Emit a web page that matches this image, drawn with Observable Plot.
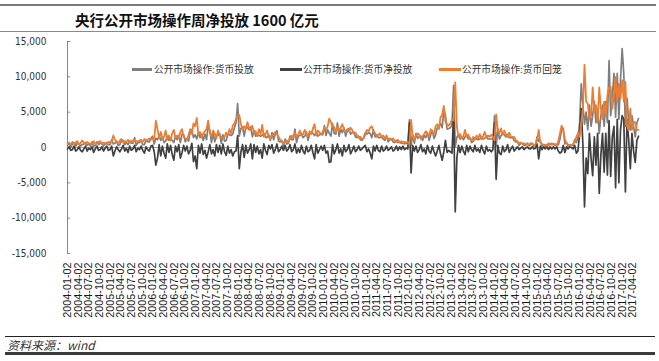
<!DOCTYPE html>
<html><head><meta charset="utf-8">
<script src="https://cdn.jsdelivr.net/npm/d3@7"></script>
<script src="https://cdn.jsdelivr.net/npm/@observablehq/plot@0.6"></script>
<style>
body{margin:0;background:#fff;}
#wrap{position:relative;width:659px;height:361px;overflow:hidden;font-family:"Noto Sans CJK SC",sans-serif;}
.hl{position:absolute;}
.lg{position:absolute;top:62px;font-size:9.7px;color:#333;line-height:14px;white-space:nowrap;}
.sw{position:absolute;top:68px;height:3px;}
</style></head>
<body><div id="wrap">
<div class="hl" style="left:0;top:4px;width:656px;height:2px;background:#7a7a7a"></div>
<div style="position:absolute;left:75px;top:9px;font-size:14.5px;font-weight:bold;color:#111;line-height:22px;white-space:nowrap;">央行公开市场操作周净投放 1600 亿元</div>
<div class="hl" style="left:0;top:31px;width:656px;height:1px;background:#8a8a8a"></div>
<div id="chart" style="position:absolute;left:0;top:36px;"></div>
<div class="sw" style="left:132px;width:20px;background:#7f7f7f"></div>
<div class="lg" style="left:154px">公开市场操作:货币投放</div>
<div class="sw" style="left:280px;width:22px;background:#404040"></div>
<div class="lg" style="left:303px">公开市场操作:货币净投放</div>
<div class="sw" style="left:439px;width:22px;background:#ED7D31"></div>
<div class="lg" style="left:462px">公开市场操作:货币回笼</div>
<div class="hl" style="left:5px;top:336px;width:650px;height:1px;background:#222"></div>
<div style="position:absolute;left:7px;top:338px;font-size:12px;font-style:italic;color:#333;line-height:14px;">资料来源：wind</div>
<div class="hl" style="left:5px;top:352px;width:650px;height:3px;background:#3a3a3a"></div>
</div>
<script>
// Series sampled every 14 days from 2004-01-02 (亿元)
const startDate = "2004-01-02";
const stepDays = 14;

// 公开市场操作:货币投放
const injection = [
  300,700,0,500,700,200,600,500,200,400,500,700,300,500,200,800,200,300,800,400,600,600,200,500,700,400,
  400,1100,500,600,900,300,400,1000,1000,400,700,400,900,600,600,1400,300,700,700,1100,400,400,1100,800,800,1300,
  1600,500,1300,1100,1700,1000,1400,700,900,1600,1000,1300,1000,700,1600,1100,1700,700,1900,1800,800,1300,900,2200,2500,1400,
  1800,1200,2100,1400,1900,1000,1900,1100,3200,2400,700,2100,800,1700,1700,2000,600,1800,900,1000,1900,1800,1700,1900,2800,3500,
  6200,1600,2700,2900,1600,2900,2800,2500,2900,1500,2400,1600,1800,1700,1600,1700,2000,1500,1400,1800,1000,2100,1100,1900,2400,900,
  800,1000,200,1200,500,600,1600,1100,1100,2600,700,1600,1700,2000,1400,1600,2200,1000,1900,2200,2000,1700,2100,1600,1800,2000,
  1800,3100,1700,2500,2000,1600,3400,2000,1900,3500,1600,2600,2100,2800,1600,2300,2700,1900,2100,2200,1500,1400,1600,1100,1000,1400,
  2100,1900,2100,2000,1400,2500,1500,1800,1400,1400,1600,1200,1000,1700,800,1100,1200,800,700,1000,700,800,600,800,500,600,
  600,3900,300,1800,600,2000,1300,1500,1600,1000,1700,1400,2100,1000,1800,2400,1300,1800,2800,2900,3400,2800,5300,4600,2600,2700,
  2800,3200,8800,100,1500,1800,1200,1500,1100,1500,1800,1200,1400,700,900,1400,1200,1100,1200,1500,1200,1300,1600,1200,1200,1200,
  1200,4500,200,2700,1200,1700,2000,1800,1500,1900,1400,1400,1500,1000,800,900,300,600,600,300,300,600,250,400,600,200,
  300,1500,900,900,200,400,200,400,300,500,400,500,300,400,400,1200,2500,2700,500,700,200,400,300,300,1100,700,
  1500,3500,9000,6000,3300,5000,2500,6000,3000,4500,6500,3500,5500,2000,4500,6000,3000,6500,3500,12300,4500,7000,10500,4300,10500,4000,
  9500,14000,10500,3000,7000,3500,2500,4500,3000,1500,3500,4100
];

// 公开市场操作:货币回笼
const withdrawal = [
  500,600,400,800,500,700,900,400,600,1000,700,500,800,600,500,700,900,500,600,800,900,500,700,600,500,800,
  700,900,1700,1100,800,600,1000,1200,700,900,800,1100,700,1000,800,1100,900,800,1000,900,800,1200,1000,1100,1300,1100,
  1300,1100,3800,2600,1300,2200,1200,1500,2400,1100,1700,1000,2000,2500,1400,1700,1300,2200,2600,1500,1300,1100,1800,2600,1900,3400,
  3000,4200,1800,2200,1400,2000,2300,2600,3800,2000,1600,2400,2000,1300,2400,1700,1500,1300,1500,2100,1700,2600,2000,3100,3400,4000,
  4500,4600,3300,2500,3000,2600,3600,2800,2400,3100,2000,2300,1600,2600,1900,3200,1500,1900,2400,1500,1200,1700,1900,2200,1900,1500,
  1100,800,600,900,1000,800,1200,1700,1400,2100,1500,1800,2400,1700,1900,2500,2000,1600,2300,1900,2700,3300,1700,2400,2100,1800,
  2200,2800,2500,3000,4100,3600,3000,2900,2200,3000,2400,2800,3300,2500,2200,2600,2300,2800,2500,2000,2100,1700,1400,1500,1200,1300,
  1800,2500,2300,2800,3000,2300,2000,1500,1800,2000,1400,1700,1300,1500,1200,1300,1100,1300,1000,800,1100,700,900,600,800,700,
  800,400,3900,1500,1100,1800,2000,1800,1200,1600,1900,2300,1800,1500,2600,2200,1900,3000,3300,2600,4300,4600,5900,3600,3300,3100,
  3400,4000,3800,9200,2900,1500,1900,1300,1600,2500,1500,1800,1200,1000,1500,1100,1700,1300,1900,1200,1600,2200,1400,1700,1500,1800,
  1500,1000,4700,2400,2000,2700,1800,2400,1800,1500,2100,1600,1300,1500,1000,800,600,700,500,600,400,500,400,600,500,400,
  400,1000,2500,700,500,300,400,300,600,400,600,400,500,300,900,2000,3100,2400,1200,600,400,300,300,500,800,1500,
  2000,1500,3500,5500,11700,6500,6200,4000,4500,8500,5000,6000,3500,8500,5500,4000,6500,4500,7400,8500,8600,5500,7500,10000,6500,9000,
  7000,9500,6500,9300,3000,2400,5500,2500,3500,3600,2500,2500
];

// 公开市场操作:货币净投放
const netInjection = [
  -200,100,-400,-300,200,-500,-300,100,-400,-600,-200,200,-500,-100,-300,100,-700,-200,200,-400,-300,100,-500,-100,200,-400,
  -300,200,-1200,-500,100,-300,-600,-200,300,-500,-100,-700,200,-400,-200,300,-600,-100,-300,200,-400,-800,100,-300,-500,200,
  300,-600,-2500,-1500,400,-1200,200,-800,-1500,500,-700,300,-1000,-1800,200,-600,400,-1500,-700,300,-500,200,-900,-400,600,-2000,
  -1200,-3000,300,-800,500,-1000,-400,-1500,-600,400,-900,-300,-1200,400,-700,300,-900,500,-600,-1100,200,-800,-300,-1200,-600,-500,
  1700,-3000,-600,400,-1400,300,-800,-300,500,-1600,400,-700,200,-900,-300,-1500,500,-400,-1000,300,-200,400,-800,-300,500,-600,
  -300,200,-400,300,-500,-200,400,-600,-300,500,-800,-200,-700,300,-500,-900,200,-600,-400,300,-700,-1600,400,-800,-300,200,
  -400,300,-800,-500,-2100,-2000,400,-900,-300,500,-800,-200,-1200,300,-600,-300,400,-900,-400,200,-600,-300,200,-400,-200,100,
  300,-600,-200,-800,-1600,200,-500,300,-400,-600,200,-500,-300,200,-400,-200,100,-500,-300,200,-400,100,-300,200,-300,-100,
  -200,3500,-3600,300,-500,200,-700,-300,400,-600,-200,-900,300,-500,-800,200,-600,-1200,-500,300,-900,-1800,-600,1000,-700,-400,
  -600,-800,5000,-9100,-1400,300,-700,200,-500,-1000,300,-600,200,-300,-600,300,-500,-200,-700,300,-400,-900,200,-500,-300,-600,
  -300,3500,-4500,300,-800,-1000,200,-600,-300,400,-700,-200,200,-500,-200,100,-300,-100,100,-300,-100,100,-150,-200,100,-200,
  -100,500,-1600,200,-300,100,-200,100,-300,100,-200,100,-200,100,-500,-800,-600,300,-700,100,-200,100,0,-200,300,-800,
  -500,2000,5500,500,-8400,-1500,-3700,2000,-1500,-4000,1500,-2500,2000,-6500,-1000,2000,-3500,2000,-3900,3800,-4100,1500,3000,-5700,4000,-5000,
  2500,4500,4000,-6300,4000,1100,-3000,2000,-500,-2100,1000,1600
];

const xTickLabels = [
  "2004-01-02","2004-04-02","2004-07-02","2004-10-02","2005-01-02","2005-04-02","2005-07-02","2005-10-02",
  "2006-01-02","2006-04-02","2006-07-02","2006-10-02","2007-01-02","2007-04-02","2007-07-02","2007-10-02",
  "2008-01-02","2008-04-02","2008-07-02","2008-10-02","2009-01-02","2009-04-02","2009-07-02","2009-10-02",
  "2010-01-02","2010-04-02","2010-07-02","2010-10-02","2011-01-02","2011-04-02","2011-07-02","2011-10-02",
  "2012-01-02","2012-04-02","2012-07-02","2012-10-02","2013-01-02","2013-04-02","2013-07-02","2013-10-02",
  "2014-01-02","2014-04-02","2014-07-02","2014-10-02","2015-01-02","2015-04-02","2015-07-02","2015-10-02",
  "2016-01-02","2016-04-02","2016-07-02","2016-10-02","2017-01-02","2017-04-02"
];
const yTicks = [-15000,-10000,-5000,0,5000,10000,15000];
const xDomainEnd = "2017-05-19";

const t0 = new Date(startDate);
const rows = injection.map((g, i) => ({
  date: d3.utcDay.offset(t0, i * stepDays),
  g, o: withdrawal[i], n: netInjection[i]
}));
const xTicks = xTickLabels.map(s => new Date(s));

const W = 659, ML = 67, MR = 21;
const narrow = '"Liberation Sans Narrow","DejaVu Sans Condensed",sans-serif';

const chart = Plot.plot({
  width: W, height: 300,
  marginLeft: ML, marginRight: MR, marginTop: 5, marginBottom: 83,
  style: {background: "transparent", color: "#333", overflow: "visible"},
  x: {type: "utc", domain: [t0, new Date(xDomainEnd)]},
  y: {domain: [-15000, 15000]},
  marks: [
    Plot.ruleY([0], {stroke: "#a6a6a6", strokeWidth: 1}),
    Plot.ruleX([t0], {stroke: "#868686", strokeWidth: 1}),
    Plot.ruleY(yTicks, {stroke: "#868686", insetRight: W - ML - MR - 3}),
    Plot.axisY({ticks: yTicks, tickSize: 0, tickPadding: 21, tickFormat: d => d.toLocaleString("en-US"),
      fontSize: 10, fontFamily: narrow, fill: "#333", label: null}),
    Plot.axisX({ticks: xTicks, tickFormat: d3.utcFormat("%Y-%m-%d"), tickRotate: -90, tickSize: 0, tickPadding: 9,
      fontSize: 10.8, fontFamily: '"Liberation Sans",Arial,sans-serif', fill: "#1a1a1a", label: null}),
    Plot.line(rows, {x: "date", y: "g", stroke: "#7f7f7f", strokeWidth: 1.7}),
    Plot.line(rows, {x: "date", y: "n", stroke: "#404040", strokeWidth: 1.7}),
    Plot.line(rows, {x: "date", y: "o", stroke: "#ED7D31", strokeWidth: 1.8})
  ]
});
document.getElementById("chart").appendChild(chart);
</script>
</body></html>
